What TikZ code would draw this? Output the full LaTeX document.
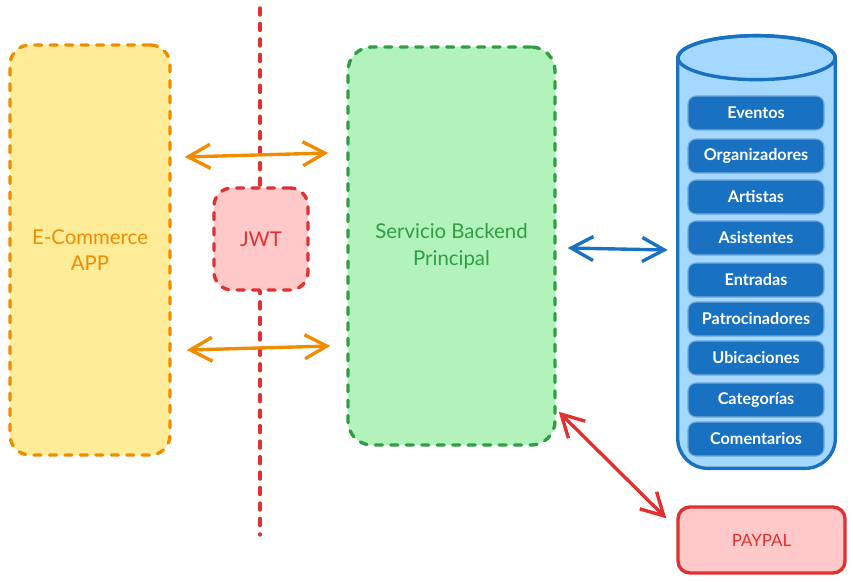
\documentclass[tikz,border=0pt]{standalone}
\usepackage{fontspec}
\setmainfont{Lato}
\usepackage{xcolor}
\usetikzlibrary{arrows.meta,positioning,calc}

\definecolor{appfill}{HTML}{FFEC99}
\definecolor{appline}{HTML}{F08C00}
\definecolor{srvfill}{HTML}{B2F2BB}
\definecolor{srvline}{HTML}{2F9E44}
\definecolor{redfill}{HTML}{FFC9C9}
\definecolor{redline}{HTML}{E03131}
\definecolor{dbfill}{HTML}{A5D8FF}
\definecolor{dbline}{HTML}{1971C2}

\begin{document}
\begin{tikzpicture}[x=0.025cm, y=-0.025cm,
    dashbox/.style={rectangle, line width=2.4pt, line cap=round, dash pattern=on 5pt off 6pt, text centered, align=center, font=\fontsize{14.5}{19}\selectfont},
    appbox/.style={dashbox, draw=appline, fill=appfill, text=appline, rounded corners=0.5cm, minimum width=4cm, minimum height=10.25cm},
    srvbox/.style={dashbox, draw=srvline, fill=srvfill, text=srvline, rounded corners=0.6cm, minimum width=5.175cm, minimum height=9.95cm},
    jwtbox/.style={dashbox, draw=redline, fill=redfill, text=redline, rounded corners=0.45cm, minimum width=2.35cm, minimum height=2.55cm},
    entity/.style={rectangle, rounded corners=0.2cm, draw=dbline!60, line width=0.8pt, fill=dbline, text=white, minimum width=3.4cm, minimum height=0.85cm, font=\fontsize{11.5}{13}\selectfont\bfseries},
    paybox/.style={rectangle, rounded corners=0.3cm, line width=2.4pt, draw=redline, fill=redfill, text=redline, minimum width=4.175cm, minimum height=1.65cm, font=\fontsize{12}{14}\selectfont},
    biarrow/.style={line width=2.4pt, line cap=round, line join=round, {Straight Barb[length=5.5mm,width=6mm]}-{Straight Barb[length=5.5mm,width=6mm]}}
]
    \useasboundingbox (0,0) rectangle (853,582);

    % Main blocks
    \node[appbox] (app) at (90,250) {E-Commerce\\APP};
    \node[srvbox] (backend) at (451.5,246) {Servicio Backend\\Principal};

    % Trust boundary with the token
    \coordinate (cutTop) at (260,8);
    \coordinate (cutBot) at (260,535);
    \draw[redline, line width=2.4pt, line cap=round, dash pattern=on 5pt off 6pt] (cutTop) -- (cutBot);
    \node[jwtbox] (jwt) at (261,239) {JWT};

    % Database cylinder
    \node[minimum width=3.925cm, minimum height=10.8cm] (db) at (756.5,252) {};
    \path[fill=dbfill, draw=dbline, line width=2.4pt]
        ([yshift=-0.55cm]db.north west) -- ([yshift=0.75cm]db.south west)
        arc[start angle=180, end angle=270, radius=0.75cm] -- ([xshift=-0.75cm]db.south east)
        arc[start angle=270, end angle=360, radius=0.75cm] -- ([yshift=-0.55cm]db.north east)
        arc[start angle=0, end angle=180, x radius=1.9625cm, y radius=0.55cm] -- cycle;
    \draw[dbline, line width=2.4pt] ([yshift=-0.55cm]db.north) ellipse [x radius=1.9625cm, y radius=0.55cm];

    % Tables
    \node[entity] (eventos)  at (756,113) {Eventos};
    \node[entity] (organiz)  at (756,156) {Organizadores};
    \node[entity] (artistas) at (756,197) {Artistas};
    \node[entity] (asist)    at (756,238) {Asistentes};
    \node[entity] (entradas) at (756,280) {Entradas};
    \node[entity] (patroc)   at (756,319) {Patrocinadores};
    \node[entity] (ubic)     at (756,358) {Ubicaciones};
    \node[entity] (categ)    at (756,400) {Categorías};
    \node[entity] (coment)   at (756,439) {Comentarios};

    % External payment
    \node[paybox] (paypal) at (761.5,540) {PAYPAL};

    % Connections
    \draw[biarrow, appline] ([shift={(13,-93)}]app.east) -- ([shift={(-18,-93)}]backend.west);
    \draw[biarrow, appline] ([shift={(15,100)}]app.east) -- ([shift={(-16,100)}]backend.west);
    \draw[biarrow, dbline] ([shift={(11,2)}]backend.east) -- ([shift={(-10,-2)}]db.west);
    \draw[biarrow, redline] ([shift={(2,-35)}]backend.south east) -- ([shift={(-10,13)}]paypal.north west);

\end{tikzpicture}
\end{document}
